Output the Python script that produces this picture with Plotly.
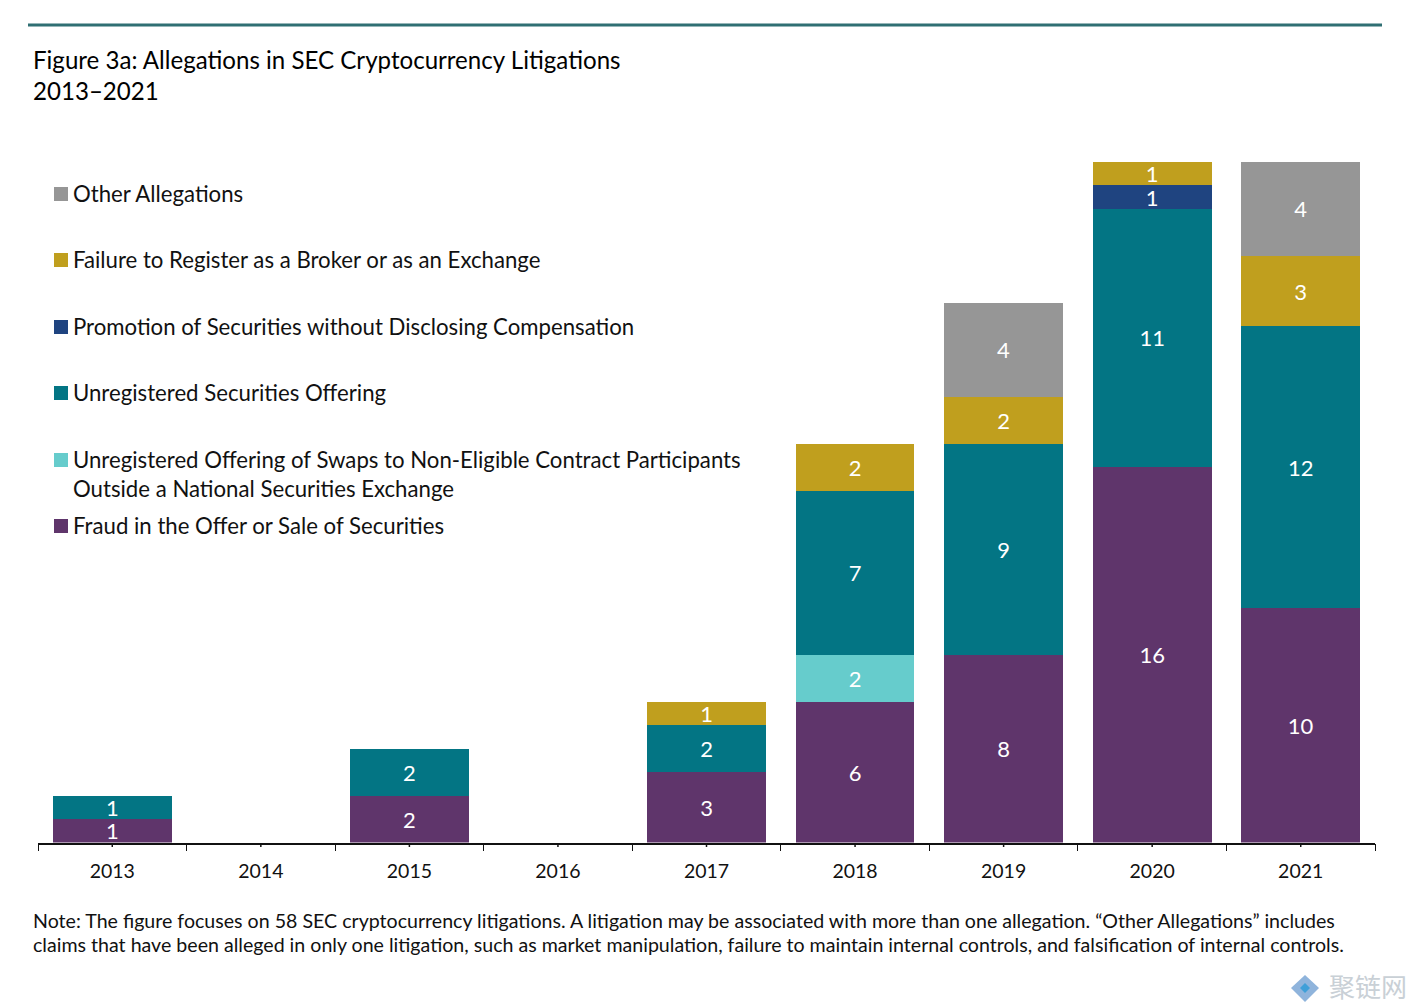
import plotly.graph_objects as go

years = ["2013","2014","2015","2016","2017","2018","2019","2020","2021"]
fraud = [1,None,2,None,3,6,8,16,10]
swaps = [None,None,None,None,None,2,None,None,None]
unreg = [1,None,2,None,2,7,9,11,12]
promo = [None,None,None,None,None,None,None,1,None]
broker = [None,None,None,None,1,2,2,1,3]
other = [None,None,None,None,None,None,4,None,4]

series = [("Fraud in the Offer or Sale of Securities",fraud,"#5f356b"),
 ("Unregistered Offering of Swaps to Non-Eligible Contract Participants<br>Outside a National Securities Exchange",swaps,"#66cccc"),
 ("Unregistered Securities Offering",unreg,"#037584"),
 ("Promotion of Securities without Disclosing Compensation",promo,"#1f4480"),
 ("Failure to Register as a Broker or as an Exchange",broker,"#c09f1e"),
 ("Other Allegations",other,"#969696")]
legend_y = [526,460,393,327,260,194]
note_lines = ["Note: The figure focuses on 58 SEC cryptocurrency litigations. A litigation may be associated with more than one allegation. “Other Allegations” includes",
 "claims that have been alleged in only one litigation, such as market manipulation, failure to maintain internal controls, and falsification of internal controls."]
FONT="Lato, Open Sans, sans-serif"
fig=go.Figure()
for (n,v,c) in series:
    fig.add_bar(x=years,y=v,name=n,marker=dict(color=c,line_width=0),text=v,textposition="inside",insidetextanchor="middle",
        textfont=dict(color="white",size=22,family=FONT),textangle=0,constraintext="none",showlegend=False)
W,H=1410,1002
def px(x): return x/W
def py(y): return 1-y/H
shapes=[dict(type="line",xref="paper",yref="paper",x0=px(28),x1=px(1382),y0=py(25),y1=py(25),line=dict(color="#2f6f73",width=3))]
ann=[]
for (n,v,c),y in zip(series,legend_y):
    shapes.append(dict(type="rect",xref="paper",yref="paper",x0=px(54),x1=px(68),y0=py(y+7),y1=py(y-7),fillcolor=c,line_width=0))
    ann.append(dict(xref="paper",yref="paper",x=px(71),y=py(y-16),xanchor="left",yanchor="top",align="left",text=n,showarrow=False,font=dict(size=22.2,color="#111",family=FONT)))
for i,yr in enumerate(years):
    shapes.append(dict(type="line",xref="x",yref="paper",x0=i,x1=i,y0=py(843),y1=py(847),line=dict(color="#111",width=1.5)))
# watermark logo
shapes.append(dict(type="path",xref="paper",yref="paper",path=f"M {px(1291)} {py(988)} L {px(1305)} {py(975)} L {px(1319)} {py(988)} L {px(1305)} {py(1002)} Z",fillcolor="#8fb4dc",line_width=0))
shapes.append(dict(type="path",xref="paper",yref="paper",path=f"M {px(1300)} {py(988)} L {px(1305)} {py(983)} L {px(1310)} {py(988)} L {px(1305)} {py(993)} Z",fillcolor="#3f9fd8",line_width=0))
ann.append(dict(xref="paper",yref="paper",x=px(31),y=py(43),xanchor="left",yanchor="top",align="left",showarrow=False,
    text="Figure 3a: Allegations in SEC Cryptocurrency Litigations<br>2013–2021",font=dict(size=24.1,color="#000",family=FONT)))
for line,y in zip(note_lines,[907,931]):
    ann.append(dict(xref="paper",yref="paper",x=px(31),y=py(y),xanchor="left",yanchor="top",align="left",showarrow=False,
        text=line,font=dict(size=19.6,color="#111",family=FONT)))
ann.append(dict(xref="paper",yref="paper",x=px(1409),y=py(965),xanchor="right",yanchor="top",showarrow=False,text="聚链网",font=dict(size=26,color="#c9d0d6",family="Noto Sans CJK SC")))
fig.update_layout(barmode="stack",bargap=0.2,width=W,height=H,margin=dict(l=0,r=0,t=0,b=0),paper_bgcolor="white",plot_bgcolor="white",
    shapes=shapes,annotations=ann,
    xaxis=dict(domain=[px(38),px(1375)],type="category",range=[-0.5,8.5],automargin=False,showline=True,linecolor="#111",linewidth=1.5,ticks="outside",ticklen=7,tickcolor="#111",tickson="boundaries",ticklabelstandoff=10,tickangle=0,tickfont=dict(size=19.5,color="#111",family=FONT)),
    yaxis=dict(domain=[py(842.5),py(162)],range=[0,29],visible=False))
fig.write_html("out.html",config={"displayModeBar":False},post_script="document.body.style.margin='0';document.documentElement.style.overflow='hidden';")
